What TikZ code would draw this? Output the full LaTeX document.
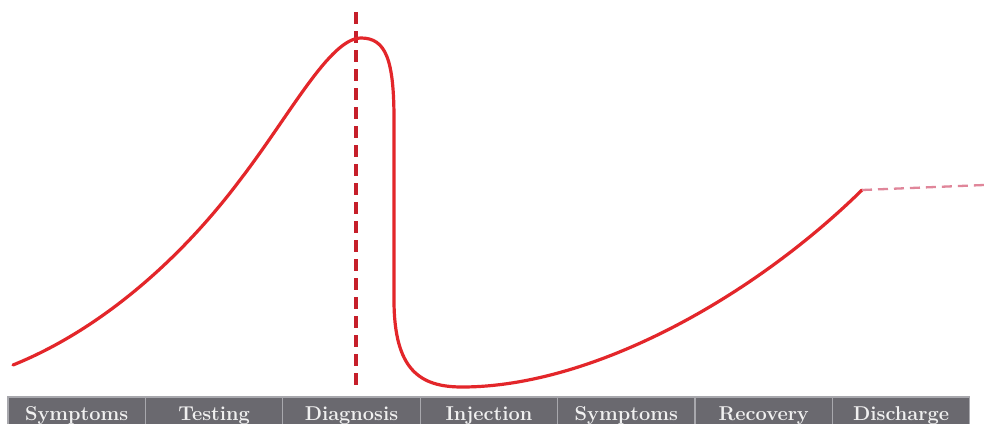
\documentclass[tikz,border=0pt]{standalone}
\usetikzlibrary{positioning}
\definecolor{curvered}{HTML}{E3262A}
\definecolor{markred}{HTML}{C61F2A}
\definecolor{tailpink}{HTML}{E0869A}
\definecolor{barfill}{HTML}{6A696F}
\definecolor{barline}{HTML}{A8A8AD}
\tikzset{
  stage/.style={fill=barfill, draw=barline, line width=1.2pt, minimum width=137.4pt,
    minimum height=36pt, inner sep=0pt, outer sep=0pt, text=white!94!black,
    font=\fontsize{20}{20}\selectfont\bfseries, text height=14pt, text depth=4pt},
  curve/.style={curvered, line width=3.2pt, line cap=round, line join=round},
  marker/.style={markred, line width=3.2pt, dash pattern=on 12pt off 7pt},
  tail/.style={tailpink, line width=2.3pt, dash pattern=on 10pt off 6pt}
}

\begin{document}
\begin{tikzpicture}[x=1pt,y=-1pt,node distance=0pt]
\clip (0,0) rectangle (984,423);
\fill[white] (0,0) rectangle (984,423);
% stage bar
\node[stage,anchor=north west] (s1) at (8,397) {Symptoms};
\node[stage,right=of s1] (s2) {Testing};
\node[stage,right=of s2] (s3) {Diagnosis};
\node[stage,right=of s3] (s4) {Injection};
\node[stage,right=of s4] (s5) {Symptoms};
\node[stage,right=of s5] (s6) {Recovery};
\node[stage,right=of s6] (s7) {Discharge};
% diagnosis marker
\coordinate (dtop) at (356,12);
\coordinate (dbot) at (356,390);
\draw[marker] (dtop) -- (dbot);
% response curve
\coordinate (start) at (13,365);
\coordinate (peak) at (361,38);
\coordinate (low) at (462,387);
\coordinate (tailA) at (862,190);
\draw[curve] (start) .. controls (100,330) and (180,260) .. (240,180)
  .. controls (290,115) and (330,38) .. (peak)
  .. controls (386,38) and (394,60) .. (394,120) -- (394,300)
  .. controls (394,370) and (420,387) .. (low)
  .. controls (590,387) and (750,300) .. (tailA);
% projected tail
\coordinate (tailB) at (984,185);
\draw[tail] (tailA) -- (tailB);
\end{tikzpicture}
\end{document}
